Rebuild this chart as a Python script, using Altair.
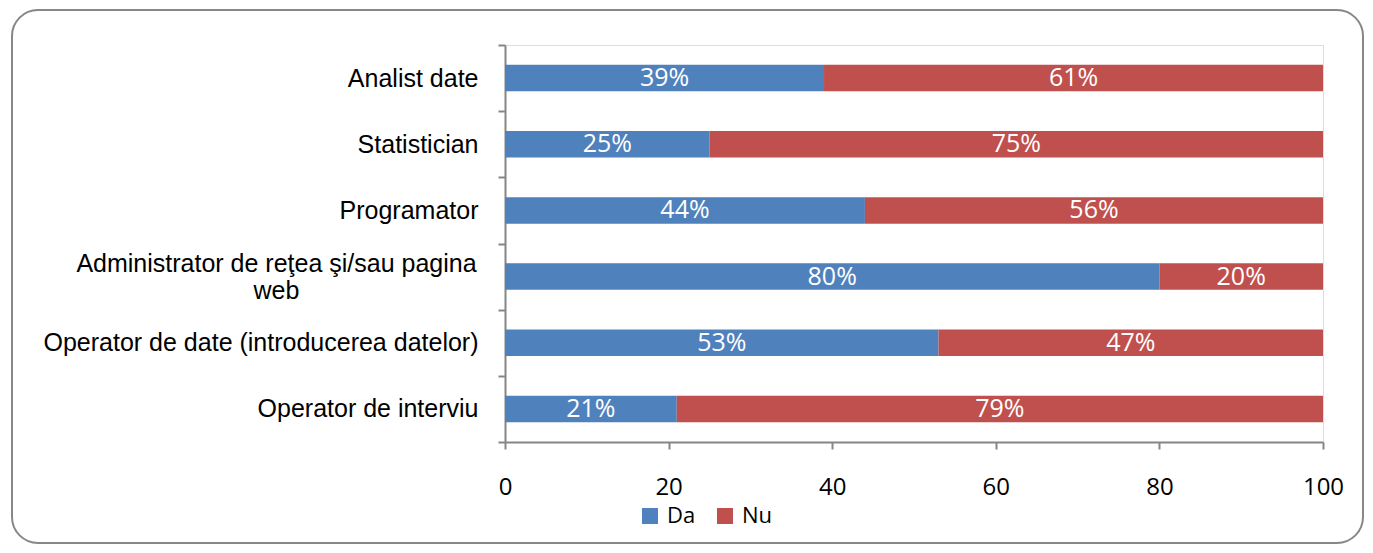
import altair as alt
import pandas as pd

categories = [
    "Analist date",
    "Statistician",
    "Programator",
    "Administrator de reţea şi/sau pagina web",
    "Operator de date (introducerea datelor)",
    "Operator de interviu",
]
da_values = [39, 25, 44, 80, 53, 21]
nu_values = [61, 75, 56, 20, 47, 79]
series_names = ["Da", "Nu"]
series_colors = ["#4F81BD", "#C0504D"]
x_ticks = [0, 20, 40, 60, 80, 100]

rows = []
for cat, da, nu in zip(categories, da_values, nu_values):
    rows.append({"cat": cat, "serie": "Da", "start": 0, "end": da, "val": da})
    rows.append({"cat": cat, "serie": "Nu", "start": da, "end": da + nu, "val": nu})
df = pd.DataFrame(rows)
df["mid"] = (df["start"] + df["end"]) / 2
df["lbl"] = df["val"].astype(str) + "%"

axis_grey = "#868686"
admin_test = "datum.value == 'Administrator de reţea şi/sau pagina web'"

y_enc = alt.Y(
    "cat:N",
    sort=categories,
    title=None,
    scale=alt.Scale(paddingInner=0, paddingOuter=0),
    axis=alt.Axis(
        labelFont="Liberation Sans",
        labelFontSize=25,
        labelColor="#000000",
        labelPadding={"condition": {"test": admin_test, "value": 222}, "value": 20},
        labelAlign={"condition": {"test": admin_test, "value": "center"}, "value": "right"},
        labelOffset={"condition": {"test": admin_test, "value": -13}, "value": 0},
        labelLimit=600,
        labelExpr="datum.label == 'Administrator de reţea şi/sau pagina web' ? ['Administrator de reţea şi/sau pagina', 'web'] : datum.label",
        tickBand="extent",
        tickSize=7,
        tickColor=axis_grey,
        tickWidth=2,
        domainColor=axis_grey,
        domainWidth=2,
        grid=False,
    ),
)

x_scale = alt.Scale(domain=[0, 100], nice=False)

bars = alt.Chart(df).mark_bar(height={"band": 0.4}).encode(
    x=alt.X(
        "start:Q",
        scale=x_scale,
        title=None,
        axis=alt.Axis(
            values=x_ticks,
            labelFont="Open Sans",
            labelFontSize=24,
            labelColor="#000000",
            labelPadding=26,
            labelFlush=False,
            tickSize=7,
            tickColor=axis_grey,
            tickWidth=2,
            domainColor=axis_grey,
            domainWidth=2,
            grid=False,
        ),
    ),
    x2="end:Q",
    y=y_enc,
    color=alt.Color(
        "serie:N",
        scale=alt.Scale(domain=series_names, range=series_colors),
        legend=alt.Legend(
            title=None,
            orient="none",
            legendX=134,
            legendY=460,
            direction="horizontal",
            symbolType="square",
            symbolSize=256,
            symbolStrokeWidth=0,
            labelFont="Open Sans",
            labelFontSize=22,
            labelColor="#000000",
            labelOffset=6,
            columnPadding=18,
        ),
    ),
)

labels = alt.Chart(df).mark_text(
    color="white", font="Open Sans", fontSize=25, baseline="middle", align="center"
).encode(
    x=alt.X("mid:Q", scale=x_scale),
    y=alt.Y("cat:N", sort=categories),
    text="lbl:N",
)

border = alt.Chart(alt.Data(values=[{"a": 1}])).mark_rect(
    fill="transparent", stroke="#878787", strokeWidth=2, cornerRadius=26, clip=False
).encode(
    x=alt.value(-493),
    x2=alt.value(858),
    y=alt.value(-35),
    y2=alt.value(498),
)

chart = alt.layer(border, bars, labels).properties(
    width=818,
    height=397,
    autosize=alt.AutoSizeParams(type="none"),
    padding={"left": 497, "top": 37, "right": 42, "bottom": 103},
).configure_view(stroke=None).configure(background="white")

chart.save("out.html", embed_options={"renderer": "svg", "actions": False})
